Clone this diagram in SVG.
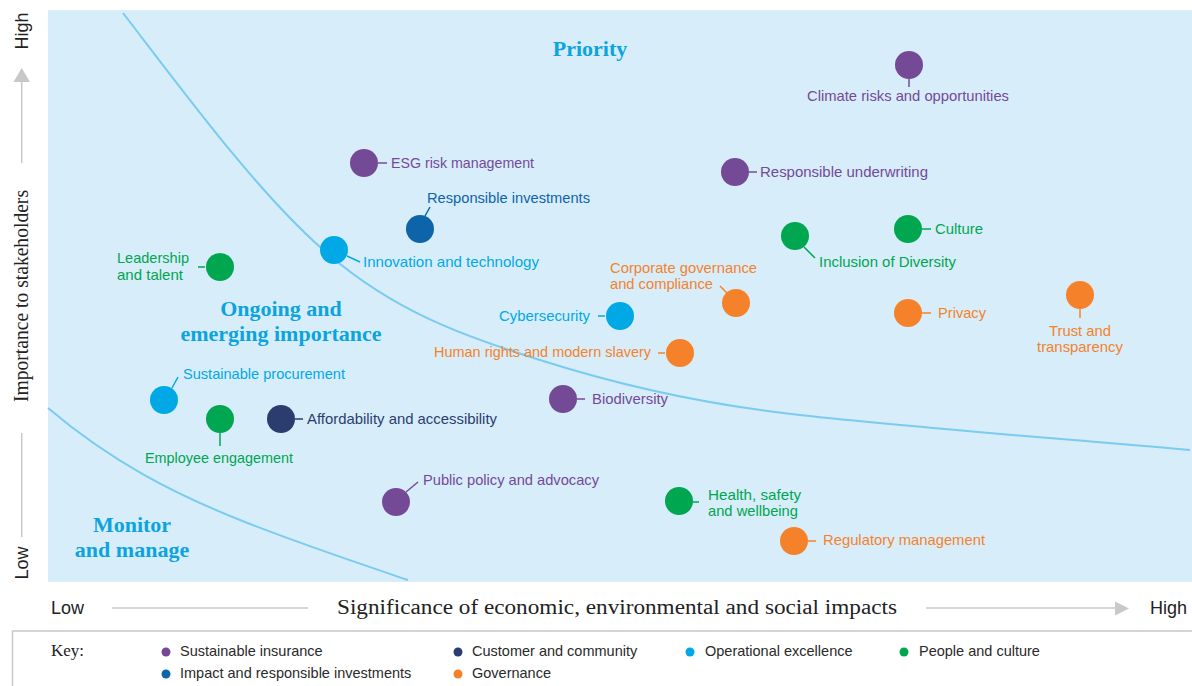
<svg xmlns="http://www.w3.org/2000/svg" width="1192" height="686" viewBox="0 0 1192 686">
<style>
.lbl{font-family:"Liberation Sans",Arial,sans-serif;font-size:15px}
.pu{fill:#744a97}.bl{fill:#0e64a9}.cy{fill:#00a9e6}.gr{fill:#00a650}.or{fill:#f5822a}.nv{fill:#2b3d6e}
.spu{stroke:#744a97}.sbl{stroke:#0e64a9}.scy{stroke:#00a9e6}.sgr{stroke:#00a650}.sor{stroke:#f5822a}.snv{stroke:#2b3d6e}
.region{font-family:"Liberation Serif","Times New Roman",serif;font-weight:bold;font-size:22px;fill:#0ca4de;text-anchor:middle}
.axis{font-family:"Liberation Sans",Arial,sans-serif;font-size:18px;fill:#222}
.serif{font-family:"Liberation Serif","Times New Roman",serif;fill:#222}
.key{font-family:"Liberation Sans",Arial,sans-serif;font-size:14.5px;fill:#2a2a2a}
.gline{stroke:#c8c8c8;stroke-width:1.5;fill:none}
.conn line{stroke-width:1.5}
</style>
<rect x="0" y="0" width="1192" height="686" fill="#ffffff"/>
<rect id="panel" x="48" y="10" width="1144" height="572" fill="#d7edfa"/>
<g id="boundaries" fill="none" stroke="#7acbf0" stroke-width="2">
<path d="M123,13 C188.7,98.4 254.3,187.9 320,247 C393.3,313 466.7,336.5 540,360 C626.7,387.7 713.3,405.5 800,415 C930,429.3 1060,438.3 1190,450"/>
<path d="M48,408 C112,462.4 176,494.4 240,520 C296,542.4 352,561 408,580"/>
</g>
<g id="regions">
<text class="region" x="590" y="56">Priority</text>
<text class="region" x="281" y="316">Ongoing and</text>
<text class="region" x="281" y="341">emerging importance</text>
<text class="region" x="132" y="532">Monitor</text>
<text class="region" x="132" y="557">and manage</text>
</g>
<g id="y-axis">
<text class="axis" transform="translate(28,31) rotate(-90)" text-anchor="middle">High</text>
<polygon points="21.7,68 13.5,82 30,82" fill="#c8c8c8"/>
<line class="gline" x1="21.7" y1="82" x2="21.7" y2="163"/>
<text class="serif" font-size="20" transform="translate(28,296) rotate(-90)" text-anchor="middle" textLength="212" lengthAdjust="spacingAndGlyphs">Importance to stakeholders</text>
<line class="gline" x1="21.7" y1="433" x2="21.7" y2="537"/>
<text class="axis" transform="translate(28,563) rotate(-90)" text-anchor="middle">Low</text>
</g>
<g id="x-axis">
<text class="axis" x="51" y="614">Low</text>
<line class="gline" x1="112" y1="608" x2="308" y2="608"/>
<text class="serif" font-size="20" x="337" y="614" textLength="560" lengthAdjust="spacingAndGlyphs">Significance of economic, environmental and social impacts</text>
<line class="gline" x1="926" y1="608" x2="1116" y2="608"/>
<polygon points="1129,608.5 1115,601.5 1115,615.5" fill="#c8c8c8"/>
<text class="axis" x="1150" y="614">High</text>
</g>
<g id="connectors" class="conn">
<line class="spu" x1="909" y1="79" x2="909" y2="87"/>
<line class="spu" x1="378" y1="163" x2="387" y2="163"/>
<line class="spu" x1="749" y1="172" x2="757" y2="172"/>
<line class="sbl" x1="425" y1="216" x2="430" y2="207"/>
<line class="scy" x1="347" y1="256" x2="360" y2="262"/>
<line class="sgr" x1="198" y1="267" x2="205" y2="267"/>
<line class="sgr" x1="804" y1="247" x2="815" y2="258"/>
<line class="sgr" x1="922" y1="229" x2="931" y2="229"/>
<line class="sor" x1="720" y1="286" x2="727" y2="293"/>
<line class="sor" x1="922" y1="313" x2="931" y2="313"/>
<line class="sor" x1="1080" y1="309" x2="1080" y2="318"/>
<line class="scy" x1="598" y1="316" x2="605" y2="316"/>
<line class="sor" x1="658" y1="353" x2="665" y2="353"/>
<line class="spu" x1="577" y1="399" x2="585" y2="399"/>
<line class="scy" x1="172" y1="388" x2="178" y2="377"/>
<line class="sgr" x1="220" y1="433" x2="220" y2="446"/>
<line class="snv" x1="295" y1="419" x2="303" y2="419"/>
<line class="spu" x1="406" y1="492" x2="418" y2="482"/>
<line class="sgr" x1="693" y1="502" x2="699" y2="502"/>
<line class="sor" x1="808" y1="541" x2="816" y2="541"/>
</g>
<g id="climate"><circle class="pu" cx="909" cy="65" r="14"/><text class="lbl pu" x="908" y="101" text-anchor="middle" textLength="202" lengthAdjust="spacingAndGlyphs">Climate risks and opportunities</text></g>
<g id="esg"><circle class="pu" cx="364" cy="163" r="14"/><text class="lbl pu" x="391" y="168" textLength="143" lengthAdjust="spacingAndGlyphs">ESG risk management</text></g>
<g id="underwriting"><circle class="pu" cx="735" cy="172" r="14"/><text class="lbl pu" x="760" y="177" textLength="168" lengthAdjust="spacingAndGlyphs">Responsible underwriting</text></g>
<g id="investments"><circle class="bl" cx="420" cy="229" r="14"/><text class="lbl bl" x="427" y="203" textLength="163" lengthAdjust="spacingAndGlyphs">Responsible investments</text></g>
<g id="innovation"><circle class="cy" cx="334" cy="250" r="14"/><text class="lbl cy" x="363" y="267" textLength="176" lengthAdjust="spacingAndGlyphs">Innovation and technology</text></g>
<g id="leadership"><circle class="gr" cx="220" cy="267" r="14"/><text class="lbl gr" x="117" y="263" textLength="72" lengthAdjust="spacingAndGlyphs">Leadership</text><text class="lbl gr" x="117" y="280" textLength="66" lengthAdjust="spacingAndGlyphs">and talent</text></g>
<g id="inclusion"><circle class="gr" cx="795" cy="236" r="14"/><text class="lbl gr" x="819" y="267" textLength="137" lengthAdjust="spacingAndGlyphs">Inclusion of Diversity</text></g>
<g id="culture"><circle class="gr" cx="908" cy="229" r="14"/><text class="lbl gr" x="935" y="234" textLength="48" lengthAdjust="spacingAndGlyphs">Culture</text></g>
<g id="corporate"><circle class="or" cx="736" cy="303" r="14"/><text class="lbl or" x="610" y="273" textLength="147" lengthAdjust="spacingAndGlyphs">Corporate governance</text><text class="lbl or" x="610" y="289" textLength="103" lengthAdjust="spacingAndGlyphs">and compliance</text></g>
<g id="privacy"><circle class="or" cx="908" cy="313" r="14"/><text class="lbl or" x="938" y="318" textLength="48" lengthAdjust="spacingAndGlyphs">Privacy</text></g>
<g id="trust"><circle class="or" cx="1080" cy="295" r="14"/><text class="lbl or" x="1080" y="336" text-anchor="middle" textLength="62" lengthAdjust="spacingAndGlyphs">Trust and</text><text class="lbl or" x="1080" y="352" text-anchor="middle" textLength="86" lengthAdjust="spacingAndGlyphs">transparency</text></g>
<g id="cybersecurity"><circle class="cy" cx="620" cy="316" r="14"/><text class="lbl cy" x="590" y="321" text-anchor="end" textLength="91" lengthAdjust="spacingAndGlyphs">Cybersecurity</text></g>
<g id="human-rights"><circle class="or" cx="680" cy="353" r="14"/><text class="lbl or" x="651" y="357" text-anchor="end" textLength="217" lengthAdjust="spacingAndGlyphs">Human rights and modern slavery</text></g>
<g id="biodiversity"><circle class="pu" cx="563" cy="399" r="14"/><text class="lbl pu" x="592" y="404" textLength="76" lengthAdjust="spacingAndGlyphs">Biodiversity</text></g>
<g id="procurement"><circle class="cy" cx="164" cy="400" r="14"/><text class="lbl cy" x="183" y="379" textLength="162" lengthAdjust="spacingAndGlyphs">Sustainable procurement</text></g>
<g id="employee"><circle class="gr" cx="220" cy="419" r="14"/><text class="lbl gr" x="219" y="463" text-anchor="middle" textLength="148" lengthAdjust="spacingAndGlyphs">Employee engagement</text></g>
<g id="affordability"><circle class="nv" cx="281" cy="419" r="14"/><text class="lbl nv" x="307" y="424" textLength="190" lengthAdjust="spacingAndGlyphs">Affordability and accessibility</text></g>
<g id="public-policy"><circle class="pu" cx="396" cy="502" r="14"/><text class="lbl pu" x="423" y="485" textLength="176" lengthAdjust="spacingAndGlyphs">Public policy and advocacy</text></g>
<g id="health"><circle class="gr" cx="679" cy="501" r="14"/><text class="lbl gr" x="708" y="500" textLength="93" lengthAdjust="spacingAndGlyphs">Health, safety</text><text class="lbl gr" x="708" y="516" textLength="90" lengthAdjust="spacingAndGlyphs">and wellbeing</text></g>
<g id="regulatory"><circle class="or" cx="794" cy="541" r="14"/><text class="lbl or" x="823" y="545" textLength="162" lengthAdjust="spacingAndGlyphs">Regulatory management</text></g>
<g id="key">
<path class="gline" d="M12.5,686 V631 H1192"/>
<text class="serif" font-size="17" x="51" y="656">Key:</text>
<circle class="pu" cx="166" cy="652" r="4.5"/><text class="key" x="180" y="656">Sustainable insurance</text>
<circle class="bl" cx="166" cy="674" r="4.5"/><text class="key" x="180" y="678">Impact and responsible investments</text>
<circle class="nv" cx="458" cy="652" r="4.5"/><text class="key" x="472" y="656">Customer and community</text>
<circle class="or" cx="458" cy="674" r="4.5"/><text class="key" x="472" y="678">Governance</text>
<circle class="cy" cx="690" cy="652" r="4.5"/><text class="key" x="705" y="656">Operational excellence</text>
<circle class="gr" cx="904" cy="652" r="4.5"/><text class="key" x="919" y="656">People and culture</text>
</g>
</svg>
